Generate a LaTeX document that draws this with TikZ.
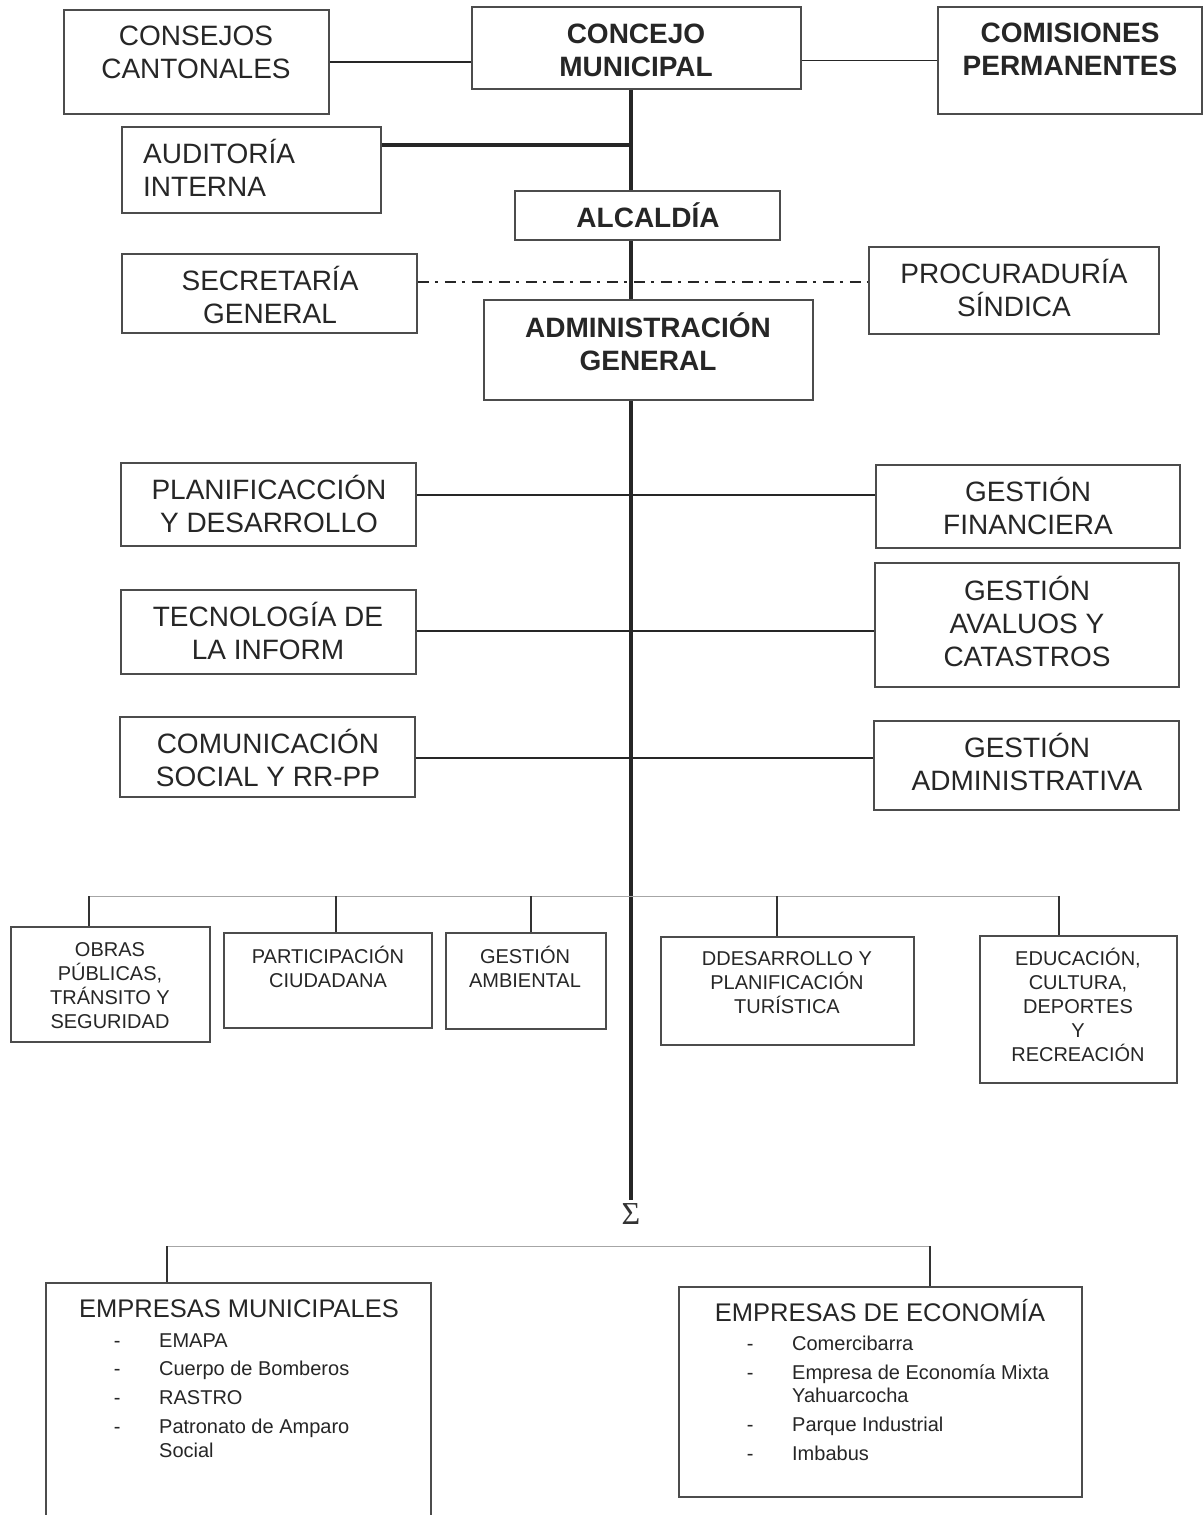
\documentclass[tikz,border=0pt]{standalone}
\usepackage{fontspec}
\setmainfont{Liberation Sans}
\newfontfamily\sigmafont{Liberation Serif}
\usepackage{tikz}
\tikzset{% estilos de cajas, textos y lineas
    bx/.style={rectangle, draw=black!70, line width=1.6pt, inner sep=0pt},
    tx/.style={align=center, inner sep=0pt, text=black!85,
      font=\fontsize{28}{33}\selectfont, execute at begin node=\vphantom{Í}},
    tb/.style={tx, font=\bfseries\fontsize{28}{33}\selectfont},
    ts/.style={tx, font=\fontsize{20}{24}\selectfont},
    tt/.style={tx, font=\fontsize{25.5}{30}\selectfont},
    tr/.style={line width=4pt, draw=black!85},
    ln/.style={line width=2.2pt, draw=black!85},
    dd/.style={line width=2.8pt, draw=black!85, dash pattern=on 11pt off 6pt on 3pt off 7pt},
    hl/.style={line width=0.8pt, draw=black!35},
    st/.style={line width=1.8pt, draw=black!80}}

\begin{document}
\begin{tikzpicture}[x=1pt,y=-1pt]
  \fill[white] (0,0) rectangle (1204,1515);
  \useasboundingbox (0,0) rectangle (1204,1515);

  % cajas
  \node[bx, minimum width=265, minimum height=104] (cantonales) at (196.5,62) {};
  \node[bx, minimum width=329, minimum height=82] (concejo) at (636.5,48) {};
  \node[bx, minimum width=264, minimum height=107] (comisiones) at (1070,60.5) {};
  \node[bx, minimum width=259, minimum height=86] (auditoria) at (251.5,170) {};
  \node[bx, minimum width=265, minimum height=49] (alcaldia) at (647.5,215.5) {};
  \node[bx, minimum width=295, minimum height=79] (secretaria) at (269.5,293.5) {};
  \node[bx, minimum width=290, minimum height=87] (procuraduria) at (1014,290.5) {};
  \node[bx, minimum width=329, minimum height=100] (admin) at (648.5,350) {};
  \node[bx, minimum width=295, minimum height=83] (planif) at (268.5,504.5) {};
  \node[bx, minimum width=304, minimum height=83] (financiera) at (1028,506.5) {};
  \node[bx, minimum width=295, minimum height=84] (tecnologia) at (268.5,632) {};
  \node[bx, minimum width=304, minimum height=124] (avaluos) at (1027,625) {};
  \node[bx, minimum width=295, minimum height=80] (comunicacion) at (267.5,757) {};
  \node[bx, minimum width=305, minimum height=89] (gadmin) at (1026.5,765.5) {};
  \node[bx, minimum width=199, minimum height=115] (obras) at (110.5,984.5) {};
  \node[bx, minimum width=208, minimum height=95] (participacion) at (328,980.5) {};
  \node[bx, minimum width=160, minimum height=96] (ambiental) at (526,981) {};
  \node[bx, minimum width=253, minimum height=108] (turistica) at (787.5,991) {};
  \node[bx, minimum width=197, minimum height=147] (educacion) at (1078.5,1009.5) {};
  \node[bx, minimum width=385, minimum height=257] (municipales) at (238.5,1411.5) {};
  \node[bx, minimum width=403, minimum height=210] (economia) at (880.5,1392) {};

  % textos
  \node[tx] (cantonales-t) at (196,52.5) {CONSEJOS\\CANTONALES};
  \node[tb] (concejo-t) at (636,50) {CONCEJO\\MUNICIPAL};
  \node[tb] (comisiones-t) at (1070,49) {COMISIONES\\PERMANENTES};
  \node[tx, align=left, anchor=west] (auditoria-t) at (143,167.5) {AUDITORÍA\\INTERNA};
  \node[tb] (alcaldia-t) at (648,215) {ALCALDÍA};
  \node[tx] (secretaria-t) at (270,294.5) {SECRETARÍA\\GENERAL};
  \node[tx] (procuraduria-t) at (1014,287.5) {PROCURADURÍA\\SÍNDICA};
  \node[tb] (admin-t) at (648,341.5) {ADMINISTRACIÓN\\GENERAL};
  \node[tx] (planif-t) at (269,503.5) {PLANIFICACCIÓN\\Y DESARROLLO};
  \node[tx] (financiera-t) at (1028,505.5) {GESTIÓN\\FINANCIERA};
  \node[tx] (tecnologia-t) at (268,630.5) {TECNOLOGÍA DE\\LA INFORM};
  \node[tx] (avaluos-t) at (1027,621) {GESTIÓN\\AVALUOS Y\\CATASTROS};
  \node[tx] (comunicacion-t) at (268,757.5) {COMUNICACIÓN\\SOCIAL Y RR-PP};
  \node[tx] (gadmin-t) at (1027,761.5) {GESTIÓN\\ADMINISTRATIVA};
  \node[ts] (obras-t) at (110,986) {OBRAS\\PÚBLICAS,\\TRÁNSITO Y\\SEGURIDAD};
  \node[ts] (participacion-t) at (328,967) {PARTICIPACIÓN\\CIUDADANA};
  \node[ts] (ambiental-t) at (525,967) {GESTIÓN\\AMBIENTAL};
  \node[ts] (turistica-t) at (787,982.5) {DDESARROLLO Y\\PLANIFICACIÓN\\TURÍSTICA};
  \node[ts] (educacion-t) at (1078,1005) {EDUCACIÓN,\\CULTURA,\\DEPORTES\\Y\\RECREACIÓN};
  \node[tt] (municipales-t) at (239,1306.4) {EMPRESAS MUNICIPALES};
  \node[tt] (economia-t) at (880,1310.4) {EMPRESAS DE ECONOMÍA};
  \node[ts, align=left, anchor=north west] (municipales-l) at (113.7,1333.3)
    {\makebox[45.3pt][l]{-}EMAPA\\[4.7pt]
     \makebox[45.3pt][l]{-}Cuerpo de Bomberos\\[4.7pt]
     \makebox[45.3pt][l]{-}RASTRO\\[4.7pt]
     \makebox[45.3pt][l]{-}Patronato de Amparo\\
     \hspace*{45.3pt}Social};
  \node[ts, align=left, anchor=north west, font=\fontsize{20}{23.5}\selectfont] (economia-l) at (746.7,1335.6)
    {\makebox[45.3pt][l]{-}Comercibarra\\[5.5pt]
     \makebox[45.3pt][l]{-}Empresa de Economía Mixta\\
     \hspace*{45.3pt}Yahuarcocha\\[5.5pt]
     \makebox[45.3pt][l]{-}Parque Industrial\\[5.5pt]
     \makebox[45.3pt][l]{-}Imbabus};
  \node[inner sep=0pt, text=black!80, font=\sigmafont\fontsize{32}{32}\selectfont] (sigma) at (631,1214) {Σ};

  % puntos de union
  \coordinate (a1) at (631,145);
  \coordinate (d1) at (631,282);
  \coordinate (r1) at (631,495);
  \coordinate (r2) at (631,631);
  \coordinate (r3) at (631,758);
  \coordinate (s1) at (89,896);
  \coordinate (s2) at (336,896);
  \coordinate (s3) at (531,896);
  \coordinate (s4) at (777,896);
  \coordinate (s5) at (1059,896);
  \coordinate (e1) at (167,1246);
  \coordinate (e2) at (930,1246);

  % lineas
  \draw[tr] (concejo.south -| sigma) -- (alcaldia.north -| sigma);
  \draw[tr] (alcaldia.south -| sigma) -- (admin.north -| sigma);
  \draw[tr, shorten >=3pt] (admin.south -| sigma) -- (sigma.north);
  \draw[ln, line width=1.8pt] (cantonales.east) -- (cantonales.east -| concejo.west);
  \draw[ln, line width=1.8pt] (comisiones.west -| concejo.east) -- (comisiones.west);
  \draw[ln, line width=3.5pt] (a1 -| auditoria.east) -- (a1);
  \draw[dd] (d1 -| secretaria.east) -- (d1 -| procuraduria.west);
  \draw[ln] (r1 -| planif.east) -- (r1 -| financiera.west);
  \draw[ln] (r2 -| tecnologia.east) -- (r2 -| avaluos.west);
  \draw[ln] (r3 -| comunicacion.east) -- (r3 -| gadmin.west);
  \draw[hl] (s1) -- (s5);
  \draw[st] (s1) -- (s1 |- obras.north);
  \draw[st] (s2) -- (s2 |- participacion.north);
  \draw[st] (s3) -- (s3 |- ambiental.north);
  \draw[st] (s4) -- (s4 |- turistica.north);
  \draw[st] (s5) -- (s5 |- educacion.north);
  \draw[hl] (e1) -- (e2);
  \draw[st] (e1) -- (e1 |- municipales.north);
  \draw[st] (e2) -- (e2 |- economia.north);
\end{tikzpicture}
\end{document}
